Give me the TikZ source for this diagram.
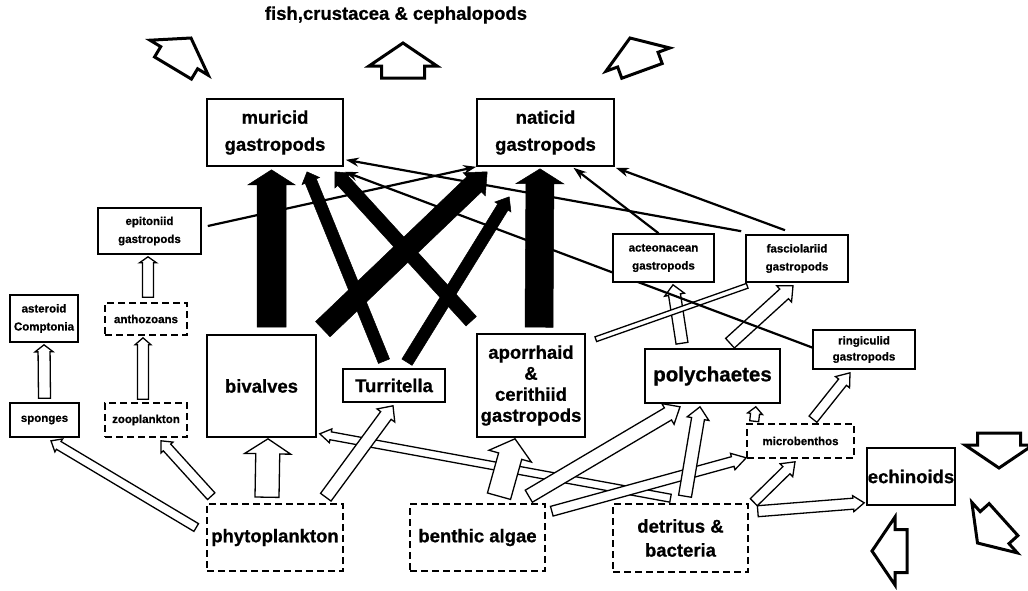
\documentclass[tikz,border=0pt]{standalone}
\usepackage{fontspec}
\setmainfont{Liberation Sans}
\newfontfamily\hv{Liberation Sans Bold}[FakeBold=0.8]
\usetikzlibrary{calc,arrows.meta}
\pgfdeclarelayer{bg}
\pgfsetlayers{bg,main}
\newcommand{\blockarr}[6]{%
 \coordinate (ba-s) at (#2);
 \coordinate (ba-e) at (#3);
 \coordinate (ba-h) at ($(ba-e)!#6pt!(ba-s)$);
 \path[#1] ($(ba-s)!0.5*#4pt!90:(ba-e)$) -- ($(ba-h)!0.5*#4pt!90:(ba-e)$) -- ($(ba-h)!0.5*#5pt!90:(ba-e)$) -- (ba-e) -- ($(ba-h)!0.5*#5pt!-90:(ba-e)$) -- ($(ba-h)!0.5*#4pt!-90:(ba-e)$) -- ($(ba-s)!0.5*#4pt!-90:(ba-e)$) -- cycle;
}
\newcommand{\outarrow}[3]{%
 \begin{scope}[shift={(#1,#2)},rotate=#3]
 \draw[outa] (0,0) -- (34,23) -- (21.5,23) -- (21.5,35) -- (-21.5,35) -- (-21.5,23) -- (-34,23) -- cycle;
 \end{scope}
}
\begin{document}
\begin{tikzpicture}[x=1pt,y=-1pt,
  box/.style={draw, line width=1.6, fill=white, inner sep=0pt, align=center},
  dbox/.style={box, dash pattern=on 7pt off 4pt},
  big/.style={font=\hv\fontsize{18.5}{27}\selectfont},
  small/.style={font=\hv\fontsize{11.5}{18}\selectfont},
  hol/.style={draw, fill=white, line width=1.3, line join=miter},
  blk/.style={draw, fill=black, line width=0.5},
  thinarr/.style={line width=2.2, -{Stealth[length=13pt,width=9pt]}},
  outa/.style={draw, fill=white, line width=3, line join=miter}]
\useasboundingbox (0,0) rectangle (1028,590);

\node[big, inner sep=0pt] (title) at (396,15) {fish,crustacea \& cephalopods};

\node[box, big, minimum width=136, minimum height=67] (muricid) at (275,132.5) {muricid\\gastropods};
\node[box, big, minimum width=137, minimum height=67] (naticid) at (545.5,132.5) {naticid\\gastropods};
\node[box, small, minimum width=103, minimum height=46] (epit) at (149.5,231) {epitoniid\\gastropods};
\node[box, small, minimum width=101, minimum height=48] (acteo) at (663.5,258) {acteonacean\\gastropods};
\node[box, small, minimum width=102, minimum height=47] (fasc) at (797,258.5) {fasciolariid\\gastropods};
\node[box, small, minimum width=68, minimum height=47] (aster) at (44,318.5) {asteroid\\Comptonia};
\node[dbox, small, minimum width=82, minimum height=32] (antho) at (146,319) {anthozoans};
\node[box, small, minimum width=69, minimum height=34] (sponges) at (44.5,420) {sponges};
\node[dbox, small, minimum width=82, minimum height=34] (zoo) at (146,420) {zooplankton};
\node[box, big, minimum width=109, minimum height=102] (bivalves) at (261.5,386) {bivalves};
\node[box, big, minimum width=102, minimum height=33] (turr) at (394,385.5) {Turritella};
\node[box, font=\hv\fontsize{18.5}{21}\selectfont, minimum width=108, minimum height=103] (aporr) at (531,385.5) {aporrhaid\\\&\\cerithiid\\gastropods};
\node[dbox, big, minimum width=136, minimum height=67] (phyto) at (275,537.5) {phytoplankton};
\node[dbox, big, minimum width=135, minimum height=67] (benth) at (477.5,537.5) {benthic algae};
\node[dbox, font=\hv\fontsize{18.5}{24}\selectfont, minimum width=135, minimum height=68] (detr) at (680.5,538) {detritus \&\\bacteria};
\node[box, font=\hv\fontsize{20.5}{24}\selectfont, minimum width=135, minimum height=54] (poly) at (712.5,376) {polychaetes};
\node[box, font=\hv\fontsize{11.5}{16}\selectfont, minimum width=102, minimum height=39] (ring) at (864,349.5) {ringiculid\\gastropods};
\node[dbox, small, minimum width=107, minimum height=34] (micro) at (800.5,441) {microbenthos};
\node[box, big, minimum width=88, minimum height=57] (echin) at (911,476.5) {echinoids};

\begin{pgfonlayer}{bg}
% hollow arrows
\blockarr{hol}{$(detr.north)+(-10,-5)$}{$(bivalves.south east)+(3,-4)$}{8}{14}{11}
\blockarr{hol}{$(sponges.north)+(0,-4)$}{$(aster.south)+(0,2)$}{12}{18}{7}
\blockarr{hol}{$(zoo.north)+(-3,-3)$}{$(antho.south)+(-3,2)$}{11}{16}{7}
\blockarr{hol}{$(antho.north)+(2,-5)$}{$(epit.south)+(-1.5,2)$}{11}{17}{6}
\blockarr{hol}{$(phyto.west)+(-10,-10)$}{$(sponges.south)+(6.5,3)$}{9}{15}{9}
\blockarr{hol}{$(phyto.north west)+(5,-7)$}{$(zoo.south)+(15,3)$}{10}{16}{9}
\blockarr{hol}{$(phyto.north)+(-8,-6)$}{$(bivalves.south)+(6.5,1)$}{24}{46}{15}
\blockarr{hol}{$(phyto.north east)+(-18,-6)$}{$(turr.south)+(-1,3)$}{13}{22}{12}
\blockarr{hol}{$(benth.north)+(21.5,-7)$}{$(aporr.south)+(-16,1)$}{24}{44}{18}
\blockarr{hol}{$(benth.north east)+(-17,-7)$}{$(poly.south)+(-32.5,3)$}{14}{24}{14}
\blockarr{hol}{$(benth.north east)+(6,8)$}{$(micro.south west)+(0,-1)$}{10}{17}{14}
\blockarr{hol}{$(detr.north)+(4.5,-7)$}{$(poly.south)+(-12.5,3)$}{13}{22}{12}
\blockarr{hol}{$(micro.north west)+(8,-2)$}{$(poly.south east)+(-25,3)$}{9}{15}{7}
\blockarr{hol}{$(detr.north east)+(5,-1)$}{$(micro.south)+(-5.5,3)$}{10}{18}{12}
\blockarr{hol}{$(detr.north east)+(9,8)$}{$(echin.south west)+(-2,-3)$}{11}{16}{11}
\blockarr{hol}{$(micro.north)+(12.5,-4)$}{$(ring.south)+(-14,3)$}{10}{18}{12}
\blockarr{hol}{$(poly.north)+(-30.5,-5)$}{$(acteo.south)+(9.5,2)$}{12}{20}{10}
\blockarr{hol}{$(poly.north)+(17.5,-5)$}{$(fasc.south)+(-4,3)$}{13}{22}{12}
% narrow band aporrhaid - fasciolariid
\coordinate (nb-s) at ($(aporr.north east)+(10,6)$);
\coordinate (nb-e) at ($(fasc.south west)+(2,3)$);
\path[hol] ($(nb-s)!2.5pt!90:(nb-e)$) -- ($(nb-e)!2.5pt!-90:(nb-s)$) -- ($(nb-e)!2.5pt!90:(nb-s)$) -- ($(nb-s)!2.5pt!-90:(nb-e)$) -- cycle;
% thick black arrows
\blockarr{blk}{$(bivalves.north)+(10,-7)$}{$(muricid.south)+(-3.5,3)$}{29}{47}{15}
\blockarr{blk}{$(aporr.north)+(8,-6)$}{$(naticid.south)+(-5.5,2)$}{28}{48}{15}
\blockarr{blk}{$(bivalves.north east)+(6,-5)$}{$(naticid.south west)+(11,5)$}{21}{32}{18}
\blockarr{blk}{$(turr.north)+(-10,-7)$}{$(muricid.south)+(32,5)$}{12}{19}{10}
\blockarr{blk}{$(turr.north)+(13,-6)$}{$(naticid.south west)+(33,30)$}{12}{19}{12}
\blockarr{blk}{$(aporr.north west)+(-5,-12)$}{$(muricid.south east)+(-9,5)$}{14}{22}{12}
% thin black arrows
\draw[thinarr] ($(epit.east)+(6,-5)$) -- (naticid.south west);
\draw[thinarr] ($(acteo.north)+(-5,0)$) -- ($(naticid.south)+(28,1)$);
\draw[thinarr] ($(fasc.north)+(-12,-4)$) -- ($(naticid.south east)+(1,1)$);
\draw[thinarr] ($(fasc.north west)+(-4,-3)$) -- ($(muricid.south east)+(2,-7)$);
\draw[thinarr] ($(ring.west)+(0,-2)$) -- ($(muricid.south east)+(1,5)$);
\end{pgfonlayer}

% outward arrows
\outarrow{191}{38}{-31}
\outarrow{403}{43}{0}
\outarrow{630}{38}{20}
\outarrow{999}{468}{180}
\outarrow{977.5}{543}{132}
\outarrow{872}{551}{90}
\end{tikzpicture}
\end{document}
